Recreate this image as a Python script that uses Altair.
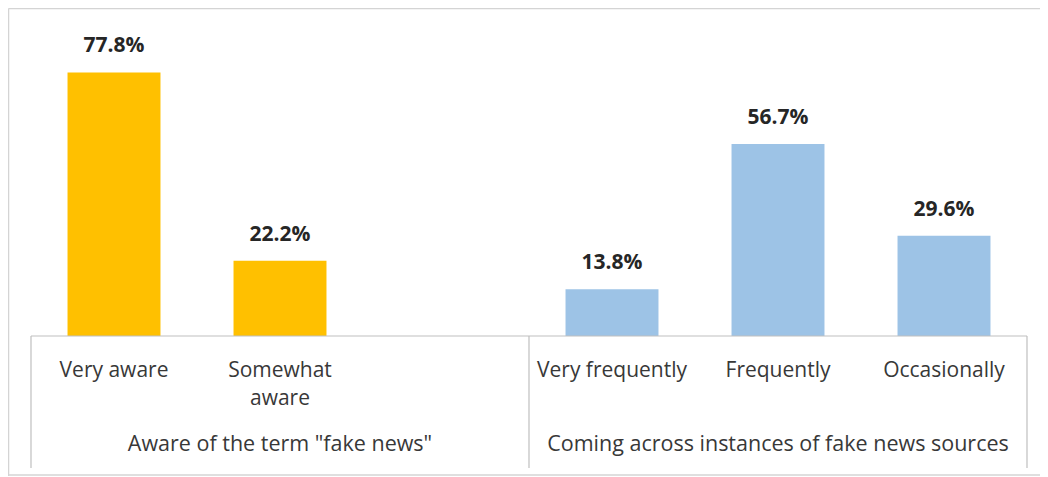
import altair as alt
import pandas as pd

# ---- data ----
slots = ["Very aware", "Somewhat aware", "gap", "Very frequently", "Frequently", "Occasionally"]
categories = ["Very aware", "Somewhat aware", "Very frequently", "Frequently", "Occasionally"]
tick_labels = ["Very aware", "Somewhat\naware", "Very frequently", "Frequently", "Occasionally"]
values = [77.8, 22.2, 13.8, 56.7, 29.6]
value_labels = ["77.8%", "22.2%", "13.8%", "56.7%", "29.6%"]
series = ["Aware", "Aware", "Coming", "Coming", "Coming"]
group_titles = ['Aware of the term "fake news"', "Coming across instances of fake news sources"]
group_centers = ["Somewhat aware", "Frequently"]

W, H = 996, 288

df = pd.DataFrame({"cat": categories, "tick": tick_labels, "val": values,
                   "lbl": value_labels, "series": series})
gdf = pd.DataFrame({"title": group_titles, "cat": group_centers})
one = pd.DataFrame({"k": [0]})

xs = alt.Scale(domain=slots, paddingInner=0.44, paddingOuter=0.22)
x = alt.X("cat:N", scale=xs, axis=None)
y = alt.Y("val:Q", scale=alt.Scale(domain=[0, 85]), axis=None)

bars = alt.Chart(df).mark_bar().encode(
    x=x, y=y,
    color=alt.Color("series:N",
                    scale=alt.Scale(domain=["Aware", "Coming"], range=["#FFC000", "#9DC3E6"]),
                    legend=None),
)

vlabels = alt.Chart(df).mark_text(
    dy=-20, baseline="alphabetic", fontSize=21, fontWeight="bold", font="Open Sans",
    color="#262626"
).encode(x=x, y=y, text="lbl:N")

ticks = alt.Chart(df).mark_text(
    baseline="alphabetic", lineBreak="\n", lineHeight=28, fontSize=21, font="Open Sans",
    color="#383838"
).encode(x=x, y=alt.value(H + 41), text="tick:N")

glabels = alt.Chart(gdf).mark_text(
    baseline="alphabetic", fontSize=21.5, font="Open Sans", color="#383838"
).encode(x=x, y=alt.value(H + 115), text="title:N")

axis_color = "#BFBFBF"
base_line = alt.Chart(one).mark_rule(color=axis_color, strokeWidth=1.2).encode(
    x=alt.value(0), x2=alt.value(W), y=alt.value(H))
sep1 = alt.Chart(one).mark_rule(color=axis_color, strokeWidth=1.2).encode(
    x=alt.value(0), y=alt.value(H), y2=alt.value(H + 132))
sep2 = alt.Chart(one).mark_rule(color=axis_color, strokeWidth=1.2).encode(
    x=alt.value(W / 2), y=alt.value(H), y2=alt.value(H + 132))
sep3 = alt.Chart(one).mark_rule(color=axis_color, strokeWidth=1.2).encode(
    x=alt.value(W), y=alt.value(H), y2=alt.value(H + 132))

frame_color = "#D4D4D4"
frame_top = alt.Chart(one).mark_rule(color=frame_color, strokeWidth=1.5).encode(
    x=alt.value(-22.5), x2=alt.value(W + 13), y=alt.value(-39.5))
frame_left = alt.Chart(one).mark_rule(color=frame_color, strokeWidth=1.5).encode(
    x=alt.value(-22.5), y=alt.value(-39.5), y2=alt.value(H + 140))
frame_bottom = alt.Chart(one).mark_rule(color=frame_color, strokeWidth=1.5).encode(
    x=alt.value(-22.5), x2=alt.value(W + 13), y=alt.value(H + 139))

chart = alt.layer(
    frame_top, frame_left, frame_bottom,
    bars, vlabels, ticks, glabels,
    base_line, sep1, sep2, sep3,
).properties(
    width=W, height=H,
    padding={"left": 23, "top": 40, "right": 13, "bottom": 141},
    autosize=alt.AutoSizeParams(type="none"),
    background="white",
).configure_view(stroke=None)

chart.save("out.html", embed_options={"renderer": "svg", "actions": False})
